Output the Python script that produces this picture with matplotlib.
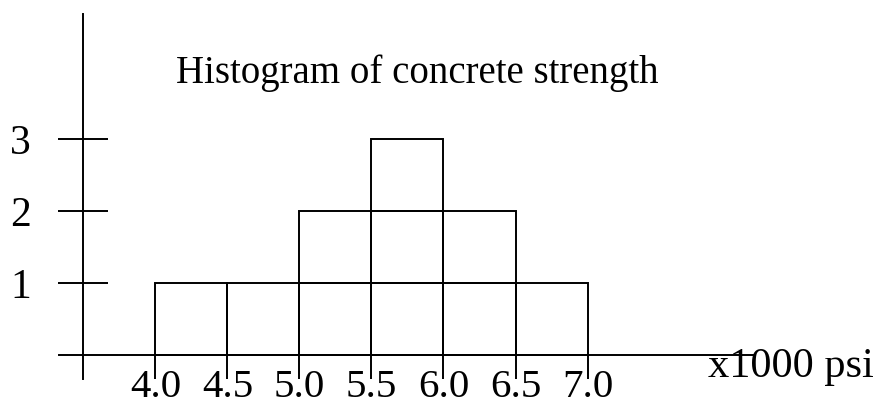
import matplotlib

matplotlib.use("Agg")
import matplotlib.pyplot as plt

# concrete strength bins (x1000 psi) and number of samples per bin
bin_edges = [4.0, 4.5, 5.0, 5.5, 6.0, 6.5, 7.0]
counts = [1, 1, 2, 3, 2, 1]
edge_labels = ["4.0", "4.5", "5.0", "5.5", "6.0", "6.5", "7.0"]
count_ticks = [1, 2, 3]
title = "Histogram of concrete strength"
unit_label = "x1000 psi"

W, H, DPI = 878, 409, 100
LW = 1.4

plt.rcParams["font.family"] = ["Liberation Serif", "DejaVu Serif"]

fig = plt.figure(figsize=(W / DPI, H / DPI), dpi=DPI)
ax = fig.add_axes([0, 0, 1, 1])
ax.patch.set_visible(False)

# pixel layout: origin of the drawn axes and scale per unit
x0_px, y0_px = 83.5, 355.0
px_per_x, px_per_y = 144.0, 72.0
x_origin = 3.5
ax.set_xlim(x_origin - x0_px / px_per_x, x_origin + (W - x0_px) / px_per_x)
ax.set_ylim(-(H - y0_px) / px_per_y, y0_px / px_per_y)

# each sample drawn as its own unit box, stacked within the bin
for left, right, n in zip(bin_edges[:-1], bin_edges[1:], counts):
    for k in range(n):
        ax.bar(left, 1, width=right - left, bottom=k, align="edge",
               fill=False, edgecolor="black", linewidth=LW)

for side in ("top", "right"):
    ax.spines[side].set_visible(False)
ax.spines["left"].set_position(("data", x_origin))
ax.spines["bottom"].set_position(("data", 0))
ax.spines["left"].set_bounds(-24 / px_per_y, (y0_px - 14) / px_per_y)
ax.spines["bottom"].set_bounds(x_origin - 24.5 / px_per_x,
                               x_origin + (753 - x0_px) / px_per_x)
for sp in ax.spines.values():
    sp.set_linewidth(LW)

ax.set_xticks(bin_edges, edge_labels)
ax.set_yticks(count_ticks, [str(c) for c in count_ticks])
ax.tick_params(axis="x", direction="out", length=24 * 72 / DPI,
               width=LW, pad=-7, labelsize=29.5)
ax.tick_params(axis="y", direction="inout", length=50 * 72 / DPI,
               width=LW, pad=20, labelsize=30)

fig.text(176 / W, 1 - 83 / H, title, fontsize=28, ha="left", va="baseline")
fig.text(708 / W, 1 - 377 / H, unit_label, fontsize=30.5, ha="left",
         va="baseline")

fig.savefig("out.png", dpi=DPI)
plt.close(fig)
